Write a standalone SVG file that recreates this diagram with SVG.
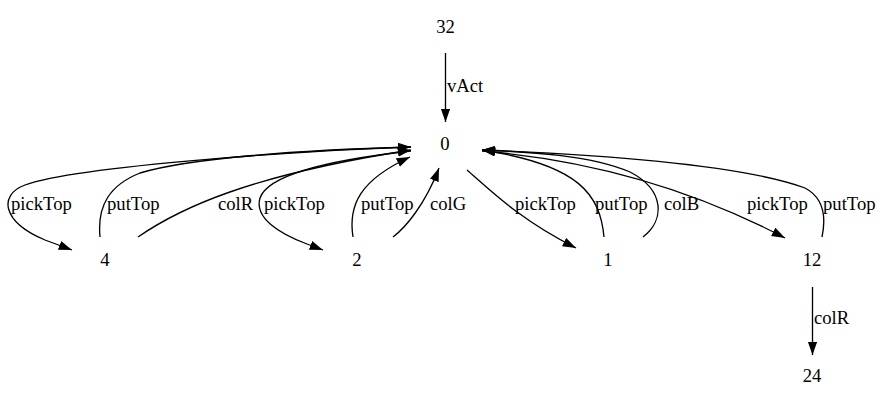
<svg xmlns="http://www.w3.org/2000/svg" width="886" height="407" viewBox="0 0 886 407">
<style>
text{font-family:"Liberation Serif","Times New Roman",serif;font-size:18.67px;fill:#000}
.n{text-anchor:middle}
.e path{fill:none;stroke:#000;stroke-width:1.33;marker-end:url(#ah)}
</style>
<defs>
<marker id="ah" markerUnits="userSpaceOnUse" markerWidth="15" markerHeight="11" refX="13.3" refY="4.67" orient="auto">
<polygon points="0,0 13.3,4.67 0,9.33" fill="#000"/>
</marker>
</defs>
<rect width="886" height="407" fill="#fff"/>
<g id="edges" class="e">
<g id="e32_0"><path d="M445.5,53 L445.5,122"/><text x="447" y="92">vAct</text></g>
<g id="e0_4"><path d="M411,147 C320,150 80,165 25,185 C-2,195 2,222 45,240 L72,250"/><text x="11" y="210">pickTop</text></g>
<g id="e4_0a"><path d="M100,237 C97,205 110,185 140,173 C190,158 300,150 411,147"/><text x="107" y="210">putTop</text></g>
<g id="e4_0b"><path d="M138,237 C180,208 250,175 411,150"/><text x="218" y="210">colR</text></g>
<g id="e0_2"><path d="M411,151 C330,160 268,175 260,198 C254,218 280,234 307,244 L323,250"/><text x="264" y="210">pickTop</text></g>
<g id="e2_0a"><path d="M353,237 C348,205 360,180 410,157"/><text x="361" y="210">putTop</text></g>
<g id="e2_0b"><path d="M393,237 C405,228 425,205 439,168"/><text x="430" y="210">colG</text></g>
<g id="e0_1"><path d="M467,170 C490,190 520,220 576,248"/><text x="515" y="210">pickTop</text></g>
<g id="e1_0a"><path d="M604,237 C600,195 580,165 482,150"/><text x="595" y="210">putTop</text></g>
<g id="e1_0b"><path d="M643,237 C665,220 665,190 630,172 C590,155 530,152 482,150"/><text x="664" y="210">colB</text></g>
<g id="e0_12"><path d="M482,151 C590,160 690,188 785,238"/><text x="747" y="210">pickTop</text></g>
<g id="e12_0"><path d="M822,237 C826,218 824,198 805,188 C745,166 610,155 482,150"/><text x="823" y="210">putTop</text></g>
<g id="e12_24"><path d="M812.5,287 L812.5,355"/><text x="814" y="324">colR</text></g>
</g>
<g id="n32"><text class="n" x="445.5" y="33">32</text></g>
<g id="n0"><text class="n" x="445" y="149.5">0</text></g>
<g id="n4"><text class="n" x="105" y="266">4</text></g>
<g id="n2"><text class="n" x="357" y="266">2</text></g>
<g id="n1"><text class="n" x="608" y="266">1</text></g>
<g id="n12"><text class="n" x="812" y="266">12</text></g>
<g id="n24"><text class="n" x="812" y="382">24</text></g>
</svg>
